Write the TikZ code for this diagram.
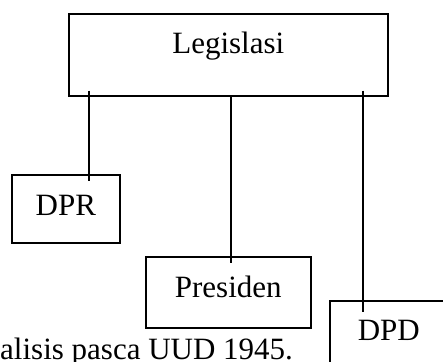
\documentclass[tikz,border=0pt]{standalone}
\usepackage{fontspec}
\setmainfont{Liberation Serif}

\begin{document}
\begin{tikzpicture}[x=1pt,y=-1pt,
    every node/.style={font=\fontsize{31}{37}\selectfont, inner sep=0pt},
    kotak/.style={draw, line width=1.6pt, anchor=north west},
    garis/.style={line width=1.3pt}]
      \clip (0,0) rectangle (443,361);
      \node[kotak, minimum width=319pt, text height=40pt, text depth=42pt] (leg) at (68,13) {Legislasi};
      \node[kotak, minimum width=108pt, text height=41pt, text depth=27pt] (dpr) at (11,174) {DPR};
      \node[kotak, minimum width=165pt, text height=41pt, text depth=30pt] (pres) at (145,256) {Presiden};
      \node[kotak, minimum width=118pt, text height=40pt, text depth=31pt] (dpd) at (329,300) {DPD};
      \node[anchor=base west] (ket) at (0,359) {alisis pasca UUD 1945.};
      \coordinate (kiri) at (89,0);
      \coordinate (tengah) at (231,0);
      \coordinate (kanan) at (363,0);
      \draw[garis, shorten <=-6pt, shorten >=-7pt] (leg.south -| kiri) -- (dpr.north -| kiri);
      \draw[garis, shorten >=-7pt] (leg.south -| tengah) -- (pres.north -| tengah);
      \draw[garis, shorten <=-6pt, shorten >=-12pt] (leg.south -| kanan) -- (dpd.north -| kanan);
    \end{tikzpicture}
\end{document}
